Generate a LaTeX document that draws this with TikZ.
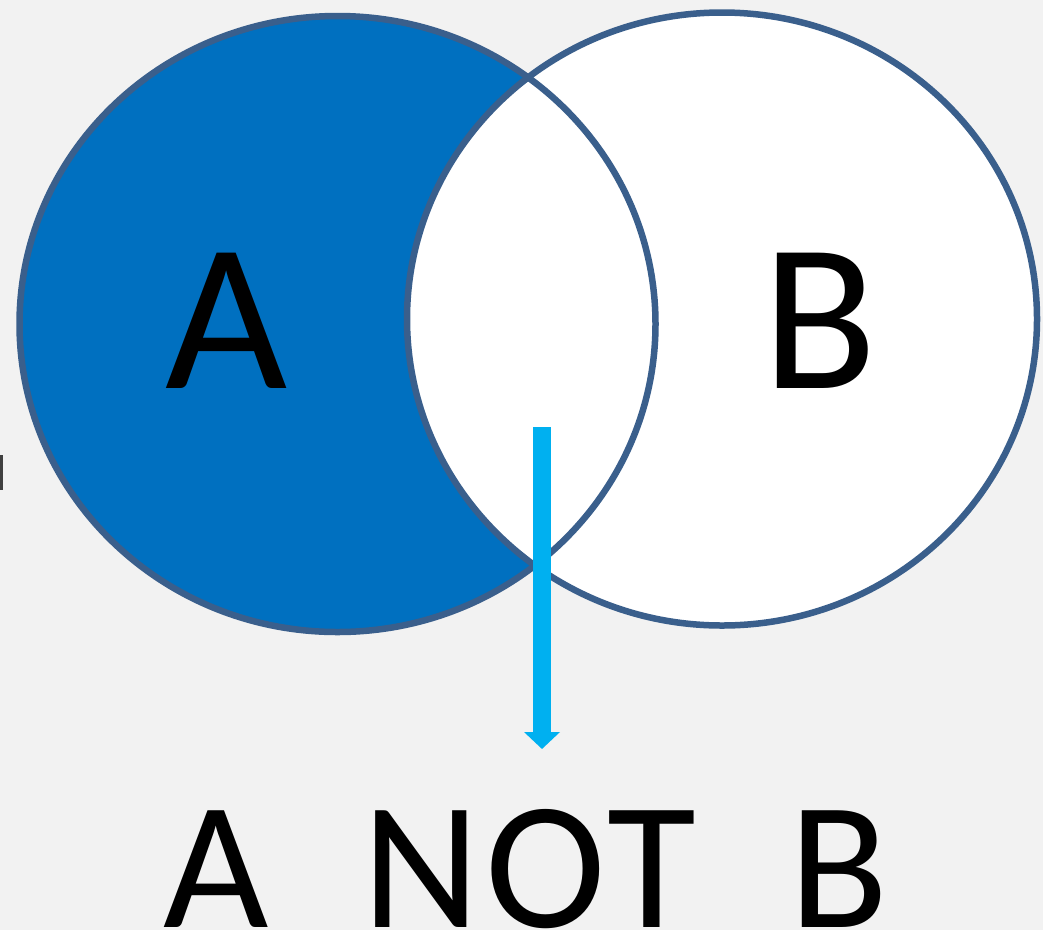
\documentclass[tikz,border=0pt]{standalone}
\usepackage{fontspec}
\setmainfont{Carlito}
\usetikzlibrary{arrows.meta}
\definecolor{setblue}{RGB}{0,112,192}
\definecolor{ringblue}{RGB}{58,95,140}
\definecolor{arrowcyan}{RGB}{0,176,240}
\definecolor{bggray}{RGB}{242,242,242}

\begin{document}
\begin{tikzpicture}[x=1pt,y=-1pt,
  ring/.style={draw=ringblue, line width=6.5pt},
  setlabel/.style={inner sep=0pt, anchor=base, font=\fontsize{211}{211}\selectfont},
  resultlabel/.style={inner sep=0pt, anchor=base west,
    font=\fontsize{182}{182}\selectfont\addfontfeature{LetterSpace=3.2}}]
\useasboundingbox (0,0) rectangle (1043,930);
\fill[bggray] (0,0) rectangle (1043,930);
\fill[black!75] (0,455) rectangle (2.5,490);
% the two sets
\fill[setblue] (337.5,324) ellipse [x radius=318, y radius=308];
\fill[white] (722,319) ellipse [x radius=315, y radius=306.5];
\draw[ring] (337.5,324) ellipse [x radius=318, y radius=308];
\draw[ring] (722,319) ellipse [x radius=315, y radius=306.5];
\node[setlabel] (setA) at (226.5,388) {A};
\node[setlabel] (setB) at (820,388) {B};
% result
\node[resultlabel] (notB) at (163,927) {A\ \ NOT\ \ B};
\coordinate (arrowtop) at (542,427);
\coordinate (arrowtip) at (542,749);
\draw[arrowcyan, line width=18pt, -{Triangle[width=35pt,length=17pt]}] (arrowtop) -- (arrowtip);
\end{tikzpicture}
\end{document}
